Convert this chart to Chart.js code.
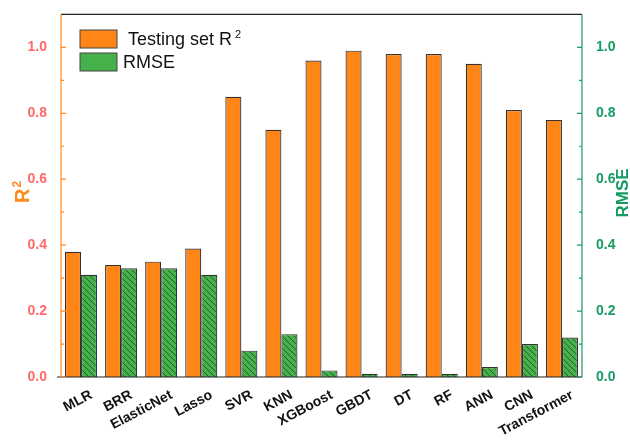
<!DOCTYPE html>
<html>
<head>
<meta charset="utf-8">
<script src="https://cdn.jsdelivr.net/npm/chart.js@4"></script>
<style>
  html, body { margin: 0; padding: 0; background: #fff; }
  #wrap { width: 630px; height: 440px; }
</style>
</head>
<body>
<div id="wrap"><canvas id="chart"></canvas></div>
<script>
// data
const models = ['MLR', 'BRR', 'ElasticNet', 'Lasso', 'SVR', 'KNN', 'XGBoost', 'GBDT', 'DT', 'RF', 'ANN', 'CNN', 'Transformer'];
const r2Values = [0.38, 0.34, 0.35, 0.39, 0.85, 0.75, 0.96, 0.99, 0.98, 0.98, 0.95, 0.81, 0.78];
const rmseValues = [0.31, 0.33, 0.33, 0.31, 0.08, 0.13, 0.02, 0.01, 0.01, 0.01, 0.03, 0.10, 0.12];
const majorTicks = [0, 0.2, 0.4, 0.6, 0.8, 1.0];
const minorTicks = [0.1, 0.3, 0.5, 0.7, 0.9];

const orange = '#ff8517';
const green = '#46b04a';
const leftAxisColor = '#ff8a1c';
const rightAxisColor = '#169c62';
const FONT = '"Liberation Sans", Arial, sans-serif';

// hatch for the RMSE bars
function hatch() {
    const c = document.createElement('canvas');
    c.width = 6; c.height = 6;
    const g = c.getContext('2d');
    g.fillStyle = green;
    g.fillRect(0, 0, 6, 6);
    g.strokeStyle = '#1f4a1f';
    g.lineWidth = 0.8;
    g.beginPath();
    g.moveTo(0, 0); g.lineTo(6, 6);
    g.moveTo(-3, 3); g.lineTo(3, 9);
    g.moveTo(3, -3); g.lineTo(9, 3);
    g.stroke();
    return g.createPattern(c, 'repeat');
}

const frame = {
    id: 'frame',
    afterDraw(chart) {
        const ctx = chart.ctx;
        const a = chart.chartArea;
        const yl = chart.scales.y, yr = chart.scales.y2, x = chart.scales.x;
        ctx.save();
        // top border and bottom axis
        ctx.strokeStyle = '#222';
        ctx.lineWidth = 1.2;
        ctx.beginPath();
        ctx.moveTo(a.left, a.top); ctx.lineTo(a.right, a.top);
        ctx.moveTo(a.left - 4, a.bottom); ctx.lineTo(a.right, a.bottom);
        ctx.stroke();
        // left axis
        ctx.strokeStyle = leftAxisColor;
        ctx.beginPath();
        ctx.moveTo(a.left, a.top); ctx.lineTo(a.left, a.bottom);
        majorTicks.forEach(v => { const p = yl.getPixelForValue(v); ctx.moveTo(a.left, p); ctx.lineTo(a.left + 5, p); });
        minorTicks.forEach(v => { const p = yl.getPixelForValue(v); ctx.moveTo(a.left, p); ctx.lineTo(a.left + 3, p); });
        ctx.stroke();
        // right axis
        ctx.strokeStyle = rightAxisColor;
        ctx.beginPath();
        ctx.moveTo(a.right, a.top); ctx.lineTo(a.right, a.bottom);
        majorTicks.forEach(v => { const p = yr.getPixelForValue(v); ctx.moveTo(a.right, p); ctx.lineTo(a.right - 5, p); });
        minorTicks.forEach(v => { const p = yr.getPixelForValue(v); ctx.moveTo(a.right, p); ctx.lineTo(a.right - 3, p); });
        ctx.stroke();

        // axis titles
        ctx.save();
        ctx.translate(29, 196);
        ctx.rotate(-Math.PI / 2);
        ctx.fillStyle = '#ff8a1c';
        ctx.font = 'bold 20px ' + FONT;
        ctx.textAlign = 'left';
        ctx.textBaseline = 'alphabetic';
        ctx.fillText('R', -7, 0);
        const rw = ctx.measureText('R').width;
        ctx.font = 'bold 12px ' + FONT;
        ctx.fillText('2', -7 + rw + 1, -8);
        ctx.restore();

        ctx.save();
        ctx.translate(628, 193);
        ctx.rotate(-Math.PI / 2);
        ctx.fillStyle = rightAxisColor;
        ctx.font = 'bold 17px ' + FONT;
        ctx.textAlign = 'center';
        ctx.textBaseline = 'alphabetic';
        ctx.fillText('RMSE', 0, 0);
        ctx.restore();

        // category labels, rotated
        ctx.fillStyle = '#111';
        ctx.font = 'bold 14px ' + FONT;
        ctx.textAlign = 'right';
        ctx.textBaseline = 'top';
        models.forEach((m, i) => {
            const px = x.getPixelForTick(i);
            ctx.save();
            ctx.translate(px + 7, a.bottom + 11);
            ctx.rotate(-28 * Math.PI / 180);
            ctx.fillText(m, 0, 0);
            ctx.restore();
        });

        // legend inside the plot
        ctx.lineWidth = 1;
        ctx.strokeStyle = '#444';
        ctx.fillStyle = orange;
        ctx.fillRect(80, 30, 37, 18);
        ctx.strokeRect(80, 30, 37, 18);
        ctx.fillStyle = green;
        ctx.fillRect(80, 53, 37, 18);
        ctx.strokeRect(80, 53, 37, 18);
        ctx.fillStyle = '#111';
        ctx.textAlign = 'left';
        ctx.textBaseline = 'alphabetic';
        ctx.font = '18px ' + FONT;
        ctx.fillText('Testing set R', 128, 45);
        const w = ctx.measureText('Testing set R').width;
        ctx.font = '11px ' + FONT;
        ctx.fillText('2', 128 + w + 3, 38);
        ctx.font = '18px ' + FONT;
        ctx.fillText('RMSE', 123, 68);
        ctx.restore();
    }
};

new Chart(document.getElementById('chart'), {
    type: 'bar',
    data: {
        labels: models,
        datasets: [
            {
                label: 'Testing set R²',
                data: r2Values,
                backgroundColor: orange,
                borderColor: '#333',
                borderWidth: 1.2,
                yAxisID: 'y'
            },
            {
                label: 'RMSE',
                data: rmseValues,
                backgroundColor: hatch(),
                borderColor: '#333',
                borderWidth: 1.2,
                yAxisID: 'y2'
            }
        ]
    },
    options: {
        responsive: true,
        maintainAspectRatio: false,
        animation: false,
        layout: { padding: { top: 10, left: 0, right: 0, bottom: 0 } },
        datasets: { bar: { categoryPercentage: 0.8, barPercentage: 1.0 } },
        plugins: { legend: { display: false }, tooltip: { enabled: false } },
        scales: {
            x: {
                grid: { display: false },
                border: { display: false },
                ticks: { display: false },
                afterFit(s) { s.height = 63; }
            },
            y: {
                position: 'left',
                min: 0,
                max: 1.1,
                grid: { display: false },
                border: { display: false },
                afterBuildTicks(s) { s.ticks = majorTicks.map(v => ({ value: v })); },
                ticks: {
                    color: '#ff6a6a',
                    padding: 6,
                    callback: v => v.toFixed(1),
                    font: { family: FONT, size: 14, weight: 'bold' }
                },
                afterFit(s) { s.width = 61; }
            },
            y2: {
                position: 'right',
                min: 0,
                max: 1.1,
                grid: { display: false },
                border: { display: false },
                afterBuildTicks(s) { s.ticks = majorTicks.map(v => ({ value: v })); },
                ticks: {
                    color: rightAxisColor,
                    padding: 6,
                    callback: v => v.toFixed(1),
                    font: { family: FONT, size: 14, weight: 'bold' }
                },
                afterFit(s) { s.width = 48; }
            }
        }
    },
    plugins: [frame]
});
</script>
</body>
</html>
